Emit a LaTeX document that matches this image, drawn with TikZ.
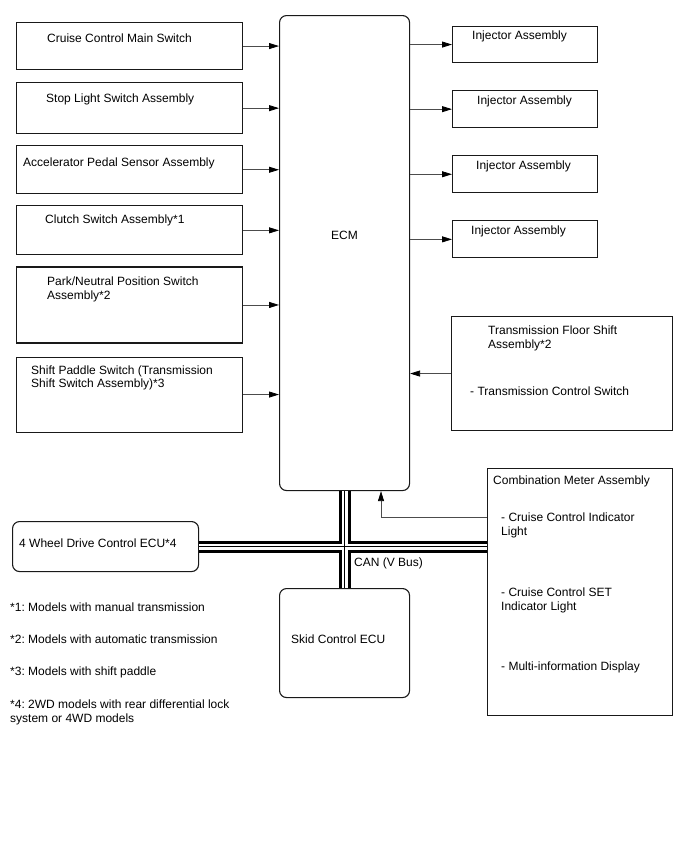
\documentclass[tikz,border=0pt]{standalone}
\usepackage{fontspec}
\setmainfont{Liberation Sans}
\usetikzlibrary{arrows.meta, positioning, calc}
\frenchspacing

\begin{document}
\begin{tikzpicture}[
    x=1pt, y=-1pt,
    font=\fontsize{12}{13.8}\selectfont,
    box/.style={rectangle, draw=black!90, line width=1.1pt, minimum width=226pt},
    unit/.style={box, rounded corners=7pt},
    txt/.style={inner sep=0pt, anchor=base west, align=left},
    arrow/.style={-{Triangle[length=10pt, width=6pt, color=black]}, line width=0.8pt, black!70}
]
\useasboundingbox (0,0) rectangle (688,852);

% Inputs (left column)
\node[box, anchor=north west, minimum height=47pt] (cms) at (16,22) {};
\node[box, below=12pt of cms, minimum height=51pt] (sls) {};
\node[box, below=11pt of sls, minimum height=48pt] (aps) {};
\node[box, below=11pt of aps, minimum height=49pt] (cls) {};
\node[box, below=11pt of cls, minimum height=76pt] (pnp) {};
\node[box, below=13pt of pnp, minimum height=75pt] (sps) {};

\node[txt] at ($(cms.north west)+(31,20.3)$) {Cruise Control Main Switch};
\node[txt] at ($(sls.north west)+(30,20.3)$) {Stop Light Switch Assembly};
\node[txt] at ($(aps.north west)+(7,21)$) {Accelerator Pedal Sensor Assembly};
\node[txt] at ($(cls.north west)+(29,18)$) {Clutch Switch Assembly*1};
\node[txt] at ($(pnp.north west)+(31,33.3)$) {Park/Neutral Position Switch\\Assembly*2};
\node[txt] at ($(sps.north west)+(15,31.3)$) {Shift Paddle Switch (Transmission\\Shift Switch Assembly)*3};

% ECM
\node[unit, anchor=north west, minimum width=130pt, minimum height=475pt] (ecm) at (279,15) {};
\node[txt, anchor=base] at ($(ecm.north)+(0,224)$) {ECM};

% Outputs (right column)
\node[box, anchor=north west, minimum width=145pt, minimum height=36pt] (inj1) at (452,26) {};
\node[box, below=27pt of inj1, minimum width=145pt, minimum height=37pt] (inj2) {};
\node[box, below=27pt of inj2, minimum width=145pt, minimum height=37pt] (inj3) {};
\node[box, below=27pt of inj3, minimum width=145pt, minimum height=37pt] (inj4) {};

\node[txt] at ($(inj1.north west)+(20,13)$) {Injector Assembly};
\node[txt] at ($(inj2.north west)+(25,14)$) {Injector Assembly};
\node[txt] at ($(inj3.north west)+(24,14)$) {Injector Assembly};
\node[txt] at ($(inj4.north west)+(19,14)$) {Injector Assembly};

\node[box, anchor=north west, minimum width=221pt, minimum height=114pt] (tfs) at (451,316) {};
\node[txt] at ($(tfs.north west)+(37,32.3)$) {Transmission Floor Shift\\Assembly*2};
\node[txt] at ($(tfs.north west)+(19,79.5)$) {- Transmission Control Switch};

\node[box, anchor=north west, minimum width=185pt, minimum height=247pt] (cmb) at (487,468) {};
\node[txt] at ($(cmb.north west)+(6,16.5)$) {Combination Meter Assembly};
\node[txt] at ($(cmb.north west)+(14,67.3)$) {- Cruise Control Indicator\\Light};
\node[txt] at ($(cmb.north west)+(14,142.3)$) {- Cruise Control SET\\Indicator Light};
\node[txt] at ($(cmb.north west)+(14,202.5)$) {- Multi-information Display};

% CAN units
\node[unit, anchor=north west, minimum width=186pt, minimum height=50pt] (fwd) at (12,521) {};
\node[txt] at ($(fwd.north west)+(7,26.7)$) {4 Wheel Drive Control ECU*4};
\node[unit, anchor=north west, minimum width=130pt, minimum height=109pt] (skid) at (279,588) {};
\node[txt] at ($(skid.north west)+(12,55.3)$) {Skid Control ECU};

% Arrows
\foreach \b in {cms,sls,aps,cls,pnp,sps}
    \draw[arrow] (\b.east) -- (\b.east -| ecm.west);
\foreach \i in {inj1,inj2,inj3,inj4}
    \draw[arrow] (\i.west -| ecm.east) -- (\i.west);
\draw[arrow] (tfs.west) -- (tfs.west -| ecm.east);
\coordinate (cmbout) at ($(cmb.north west)+(0,49.5)$);
\coordinate (ecmin) at ($(ecm.south west)+(102,0)$);
\draw[arrow] (cmbout) -| (ecmin);

% CAN bus
\foreach \w/\c in {12pt/black, 6pt/white, 1pt/black}
    \draw[line width=\w, \c] (fwd.east) -- (fwd.east -| cmb.west)
        (ecm.south) -- (skid.north);
\node[txt] (can) at (354,566) {CAN (V Bus)};

% Notes
\node[txt] (n1) at (10,611.5) {*1: Models with manual transmission};
\node[txt] (n2) at (10,643.5) {*2: Models with automatic transmission};
\node[txt] (n3) at (10,675.5) {*3: Models with shift paddle};
\node[txt] (n4) at (10,722.3) {*4: 2WD models with rear differential lock\\system or 4WD models};
\end{tikzpicture}
\end{document}
